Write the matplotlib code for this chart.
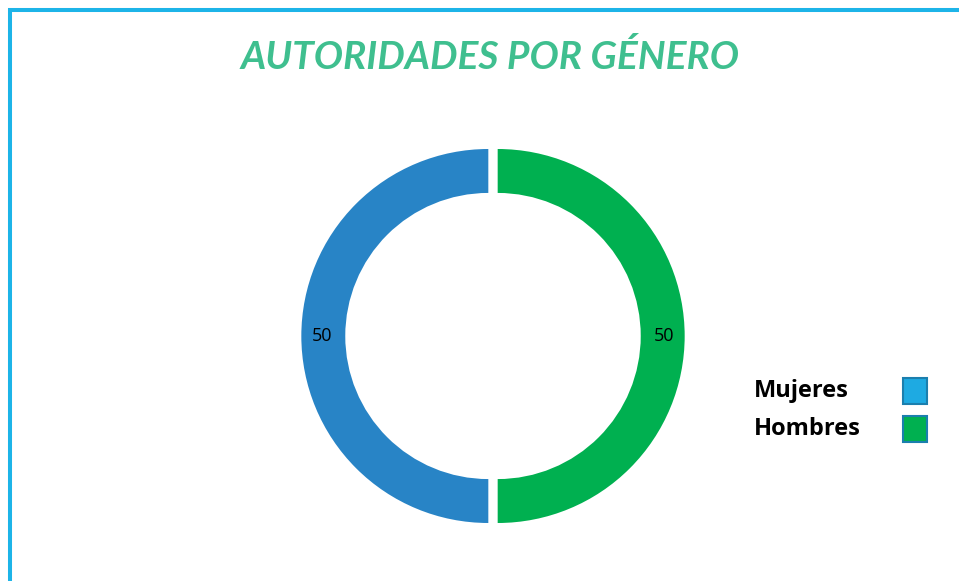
import matplotlib
matplotlib.use("Agg")
import matplotlib.pyplot as plt
from matplotlib.patches import Rectangle

categories = ["Mujeres", "Hombres"]
values = [50, 50]
wedge_colors = ["#2884c6", "#00b050"]
legend_colors = ["#1eaae2", "#00b050"]
title = "AUTORIDADES POR GÉNERO"

W, H = 959, 581
fig = plt.figure(figsize=(W / 100, H / 100), dpi=100)
fig.patch.set_facecolor("white")

# frame border (left and top visible)
fig.patches.append(Rectangle((10 / W, -0.2), 2.0, 1.2 - 10 / H,
                             transform=fig.transFigure, fill=False,
                             edgecolor="#1db4e8", linewidth=2.9, clip_on=False))

# title
fig.text(490 / W, 1 - 57 / H, title, ha="center", va="center",
         fontsize=28, fontweight="bold", fontstyle="italic",
         family="Lato", color="#3fbf8f")

# donut
cx, cy, R, half = 493, 336, 187, 200
ax = fig.add_axes([(cx - half) / W, (H - cy - half) / H, 2 * half / W, 2 * half / H])
lim = half / R
ax.set_aspect("equal")
ax.axis("off")
total = sum(values)
wedges, texts, autotexts = ax.pie(
    values, colors=wedge_colors, startangle=90, counterclock=True,
    explode=[0.025] * len(values), radius=1.0,
    wedgeprops=dict(width=0.235, linewidth=0),
    autopct=lambda p: f"{p * total / 100:.0f}", pctdistance=0.89,
    textprops=dict(fontsize=13, family="Open Sans", color="black"))
ax.set_xlim(-lim, lim)
ax.set_ylim(-lim, lim)

# legend (text left, swatch right)
ys = [391, 429]
for lab, col, y in zip(categories, legend_colors, ys):
    fig.text(754 / W, 1 - y / H, lab, ha="left", va="center",
             fontsize=17, fontweight="bold", family="Open Sans", color="black")
    fig.patches.append(Rectangle((903 / W, 1 - (y + 13) / H), 24 / W, 26 / H,
                                 transform=fig.transFigure, facecolor=col,
                                 edgecolor="#1b7fae", linewidth=1.5))

fig.savefig("out.png", dpi=100, facecolor="white")
